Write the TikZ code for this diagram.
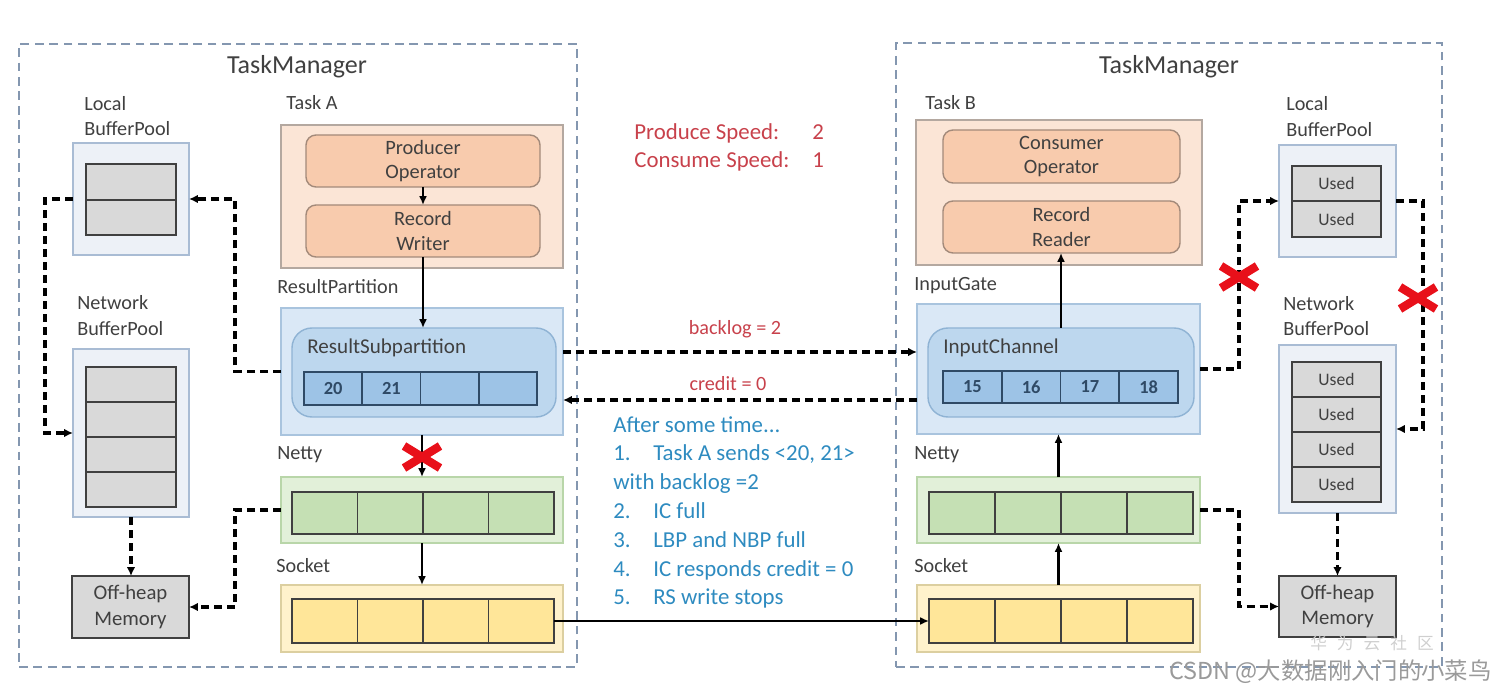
\documentclass[tikz,border=0pt]{standalone}
\usepackage{fontspec}
\setmainfont{Carlito}
\newfontfamily\cjkfont{Noto Sans CJK SC}
\usetikzlibrary{arrows.meta}

\definecolor{txtgray}{HTML}{404040}
\definecolor{tmline}{HTML}{8497B0}
\definecolor{poolfill}{HTML}{EDF1F7}
\definecolor{poolline}{HTML}{A9BCD4}
\definecolor{usedfill}{HTML}{D9D9D9}
\definecolor{taskfill}{HTML}{FBE5D6}
\definecolor{taskline}{HTML}{B4A8A0}
\definecolor{opfill}{HTML}{F8CBAD}
\definecolor{opline}{HTML}{A38A7A}
\definecolor{partfill}{HTML}{DAE8F6}
\definecolor{partline}{HTML}{A9C4DE}
\definecolor{subfill}{HTML}{BDD7EE}
\definecolor{subline}{HTML}{8FB3D4}
\definecolor{bufcell}{HTML}{9DC3E6}
\definecolor{bufline}{HTML}{2F4A66}
\definecolor{nettyfill}{HTML}{E2F0D9}
\definecolor{nettyline}{HTML}{B9D6A9}
\definecolor{nettycell}{HTML}{C5E0B4}
\definecolor{sockfill}{HTML}{FFF2CC}
\definecolor{sockline}{HTML}{DCCFA0}
\definecolor{sockcell}{HTML}{FFE699}
\definecolor{speedred}{HTML}{C8414B}
\definecolor{noteblue}{HTML}{2E8BC0}
\definecolor{markred}{HTML}{E8101A}
\definecolor{wmgray}{HTML}{9A9A9A}
\definecolor{wmlight}{HTML}{CFCFCF}

\tikzset{
    redx/.pic={\draw[markred, line width=4.8pt] (-18,-11) -- (18,11) (-18,11) -- (18,-11);}
}

\begin{document}
\begin{tikzpicture}[x=0.02cm, y=-0.02cm,
    sz/.style 2 args={minimum width=#1*0.02cm, minimum height=#2*0.02cm},
    boxed/.style={draw, inner sep=0pt, outer sep=0pt, line width=0.8pt},
    tmbox/.style={boxed, draw=tmline, line width=1.1pt, dash pattern=on 5pt off 3.2pt},
    tmtitle/.style={text=txtgray, font=\fontsize{14.8}{17}\selectfont, inner sep=0pt},
    lbl/.style={text=txtgray, font=\fontsize{11.5}{14.5}\selectfont, align=left, anchor=west, inner sep=0pt},
    pool/.style={boxed, fill=poolfill, draw=poolline},
    used/.style={boxed, fill=usedfill, draw=txtgray, line width=1.1pt, text=txtgray, font=\fontsize{10}{12}\selectfont},
    mem/.style={used, align=center, font=\fontsize{11.8}{14.5}\selectfont},
    task/.style={boxed, fill=taskfill, draw=taskline},
    op/.style={boxed, rounded corners=0.2cm, fill=opfill, draw=opline, text=txtgray, align=center, font=\fontsize{11.6}{14}\selectfont},
    part/.style={boxed, fill=partfill, draw=partline},
    sub/.style={boxed, rounded corners=0.4cm, fill=subfill, draw=subline},
    bcell/.style={boxed, fill=bufcell, draw=bufline, line width=1.1pt, text=bufline, font=\fontsize{10.5}{12}\selectfont\bfseries},
    netty/.style={boxed, fill=nettyfill, draw=nettyline},
    ncell/.style={boxed, fill=nettycell, draw=txtgray, line width=1.1pt},
    sock/.style={boxed, fill=sockfill, draw=sockline},
    scell/.style={boxed, fill=sockcell, draw=txtgray, line width=1.1pt},
    flow/.style={line width=1.3pt, -{Latex[length=5pt, width=4.5pt]}},
    dflow/.style={line width=1.75pt, dash pattern=on 4.6pt off 2.8pt, -{Latex[length=5pt, width=4.8pt]}},
    redtxt/.style={text=speedred, inner sep=0pt, font=\fontsize{11.5}{14}\selectfont},
    note/.style={text=noteblue, inner sep=0pt, align=left, anchor=west, font=\fontsize{13}{16.4}\selectfont}]

                \useasboundingbox (0,0) rectangle (1508,692);

                \node[tmbox, sz={558}{623}] (tmL) at (298,355.5) {};
                \node[tmbox, sz={546}{624}] (tmR) at (1169,355) {};
                \node[tmtitle] (tmLt) at (297,67) {TaskManager};
                \node[tmtitle] (tmRt) at (1169,67) {TaskManager};

                \node[lbl] (lbpLl) at (84,116) {Local\\BufferPool};
                \node[pool, sz={116}{112}] (lbpL) at (131,199) {};
                \node[used, sz={90}{36}] (lbpL1) at (131,182) {};
                \node[used, sz={90}{35}] (lbpL2) at (131,217.5) {};

                \node[lbl] (nbpLl) at (77,315.5) {Network\\BufferPool};
                \node[pool, sz={116}{168}] (nbpL) at (131,433) {};
                \foreach \i in {1,...,4}
                    \node[used, sz={90}{35}] (nbpL\i) at (131,{367+35*\i-17.5}) {};

                \node[mem, sz={117}{62}] (offL) at (130.5,607) {Off-heap\\Memory};

                \node[lbl] (taskAl) at (286,103) {Task A};
                \node[task, sz={282}{143}] (taskA) at (422,196.5) {};
                \node[op, sz={234}{52}] (prod) at (423,161) {Producer\\Operator};
                \node[op, sz={234}{52}] (recw) at (423,231) {Record\\Writer};

                \node[lbl] (rpl) at (277,287) {ResultPartition};
                \node[part, sz={282}{127}] (rp) at (422,371.5) {};
                \node[sub, sz={264}{89}] (rsp) at (424,372.5) {};
                \node[lbl, font=\fontsize{12}{14}\selectfont] (rspl) at (307,348) {ResultSubpartition};
                \foreach \t [count=\i] in {20,21,{},{}}
                    \node[bcell, sz={58.25}{33}] (rc\i) at ({304+58.25*\i-29.125},388.5) {\t};

                \node[lbl] (nettyLl) at (277,455) {Netty};
                \node[netty, sz={282}{66}] (nettyL) at (422,510) {};
                \foreach \i in {1,...,4}
                    \node[ncell, sz={65.5}{42}] (nc\i) at ({292+65.5*\i-32.75},513) {};

                \node[lbl] (sockLl) at (276,566) {Socket};
                \node[sock, sz={282}{67}] (sockL) at (422,618.5) {};
                \foreach \i in {1,...,4}
                    \node[scell, sz={65.5}{44}] (sc\i) at ({292+65.5*\i-32.75},621) {};

                \node[lbl] (taskBl) at (925,103) {Task B};
                \node[task, sz={286}{145}] (taskB) at (1059,192.5) {};
                \node[op, sz={237}{53}] (cons) at (1061.5,156.5) {Consumer\\Operator};
                \node[op, sz={237}{52}] (recr) at (1061.5,227) {Record\\Reader};

                \node[lbl] (igl) at (914,286) {InputGate};
                \node[part, sz={283}{130}] (ig) at (1058.5,369) {};
                \node[sub, sz={266}{89}] (ic) at (1061,372.5) {};
                \node[lbl, font=\fontsize{12}{14}\selectfont] (icl) at (943,348) {InputChannel};
                \foreach \t [count=\i] in {15,16,17,18}
                    \node[bcell, sz={58.75}{32}] (icc\i) at ({943+58.75*\i-29.375},387) {\t};

                \node[lbl] (nettyRl) at (914,455) {Netty};
                \node[netty, sz={283}{66}] (nettyR) at (1058.5,510) {};
                \foreach \i in {1,...,4}
                    \node[ncell, sz={66}{42}] (ncR\i) at ({929+66*\i-33},513) {};

                \node[lbl] (sockRl) at (914,566) {Socket};
                \node[sock, sz={283}{67}] (sockR) at (1058.5,618.5) {};
                \foreach \i in {1,...,4}
                    \node[scell, sz={66}{44}] (scR\i) at ({929+66*\i-33},621) {};

                \node[lbl] (lbpRl) at (1286,116.5) {Local\\BufferPool};
                \node[pool, sz={117}{112}] (lbpR) at (1337.5,201) {};
                \node[used, sz={89}{35}] (lbpR1) at (1336.5,183.5) {Used};
                \node[used, sz={89}{36}] (lbpR2) at (1336.5,219) {Used};

                \node[lbl] (nbpRl) at (1283,316) {Network\\BufferPool};
                \node[pool, sz={117}{168}] (nbpR) at (1337.5,429) {};
                \foreach \i in {1,...,4}
                    \node[used, sz={89}{35}] (nbpR\i) at (1336.5,{362+35*\i-17.5}) {Used};

                \node[mem, sz={117}{61}] (offR) at (1337.5,606.5) {Off-heap\\Memory};

                \node[redtxt, align=left, anchor=west, font=\fontsize{13}{16.4}\selectfont] (speed) at (634,147.5)
                    {\makebox[3.56cm][l]{Produce Speed:}2\\\makebox[3.56cm][l]{Consume Speed:}1};
                \node[redtxt] (backlog) at (735,329) {backlog = 2};
                \node[redtxt] (credit) at (728,384) {credit = 0};
                \node[note] (steps) at (613,512.5)
                    {After some time...\\
                    \makebox[0.8cm][l]{1.}Task A sends <20, 21>\\
                    with backlog =2\\
                    \makebox[0.8cm][l]{2.}IC full\\
                    \makebox[0.8cm][l]{3.}LBP and NBP full\\
                    \makebox[0.8cm][l]{4.}IC responds credit = 0\\
                    \makebox[0.8cm][l]{5.}RS write stops};

                \coordinate (blY) at (0,352);
                \coordinate (crY) at (0,400);

                \draw[flow] (prod) -- (recw);
                \draw[flow] (recw.south) -- (recw.south |- rsp.north);
                \draw[flow] (rp) -- (nettyL);
                \draw[flow] (nettyL) -- (sockL);
                \draw[flow] (sc4.east) -- (scR1.west);
                \draw[flow] (ic.north) -- (ic.north |- recr.south);
                \draw[flow] (nettyR) -- (ig);
                \draw[flow] (sockR) -- (nettyR);

                \draw[dflow] (rp.east |- blY) -- (ig.west |- blY);
                \draw[dflow] (ig.west |- crY) -- (rp.east |- crY);
                \draw[dflow] (rp.west) -- ++(-46,0) |- (lbpL.east);
                \draw[dflow] (lbpL.west) -- ++(-28,0) |- (nbpL.west);
                \draw[dflow] (nbpL.south) -- (nbpL.south |- offL.north);
                \draw[dflow] (nettyL.west) -- ++(-46,0) |- (offL.east);
                \draw[dflow] (ig.east) -- ++(39,0) |- (lbpR.west);
                \draw[dflow] (lbpR.east) -- ++(27,0) |- (nbpR.east);
                \draw[dflow] (nbpR.south) -- (nbpR.south |- offR.north);
                \draw[dflow] (nettyR.east) -- ++(39,0) |- (offR.west);

                \pic at (422,457) {redx};
                \pic at (1239,277) {redx};
                \pic at (1418,298) {redx};

                \node[text=wmlight, inner sep=0pt, font=\cjkfont\fontsize{9.5}{11}\selectfont] (hwyun) at (1372,643)
                    {华\hspace{0.2cm}为\hspace{0.2cm}云\hspace{0.2cm}社\hspace{0.2cm}区};
                \node[text=wmgray, inner sep=0pt, anchor=east, font=\cjkfont\fontsize{13.3}{15}\selectfont] (csdn) at (1492,672)
                    {CSDN @大数据刚入门的小菜鸟};
            \end{tikzpicture}
\end{document}
